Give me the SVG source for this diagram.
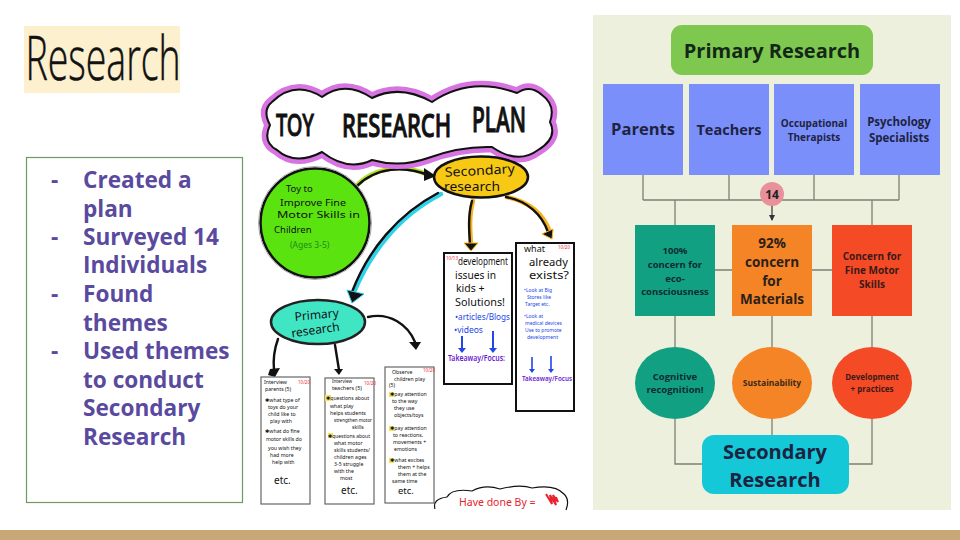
<svg xmlns="http://www.w3.org/2000/svg" width="960" height="540" viewBox="0 0 960 540">
<defs>
<marker id="ah" markerWidth="8" markerHeight="8" refX="5" refY="3" orient="auto" markerUnits="userSpaceOnUse"><path d="M0,0L6,3L0,6Z" fill="#333"/></marker>
</defs>
<style>
.os{font-family:"Open Sans","Noto Sans","DejaVu Sans",sans-serif;font-weight:700;text-anchor:middle}
.dk{fill:#1d2340}
.ln{fill:none;stroke:#7d7f74;stroke-width:1.3}
.li{font-family:"Open Sans","Noto Sans",sans-serif;font-weight:700;font-size:22.600px;fill:#5a4a9f}
.hw{font-family:"Noto Sans","DejaVu Sans",sans-serif;fill:#111}
.sm{font-size:5.200px}
.bl{fill:#2346e8}
.rd{fill:#f0243c;font-family:"Noto Sans",sans-serif;font-size:4.500px}
.note{fill:#fff;stroke:#666;stroke-width:1.2}
.noteb{fill:#fff;stroke:#111;stroke-width:2}
.arr{fill:none;stroke:#111;stroke-width:2.4;stroke-linecap:round}
.glow{fill:none;stroke-width:4.5;stroke-linecap:round}
.star{fill:#f5e25a}
</style>
<rect width="960" height="540" fill="#fff"/>
<rect id="footer" x="0" y="530" width="960" height="10" fill="#c9a878"/>
<g id="title"><rect x="24" y="26" width="156" height="67" fill="#fdf0cf"/>
<text transform="translate(25.500 80) scale(0.635 1.03)" font-family="'Open Sans',sans-serif" font-weight="300" font-size="59" fill="#111" stroke="#111" stroke-width=".5">Research</text></g>
<g id="steps"><rect x="26.500" y="157.500" width="216" height="345" fill="#fff" stroke="#6f9b5f" stroke-width="1.200"/>
<text class="li" x="51" y="188">-</text><text class="li" x="83" y="188">Created a</text><text class="li" x="83" y="217">plan</text>
<text class="li" x="51" y="245">-</text><text class="li" x="83" y="245">Surveyed 14</text><text class="li" x="83" y="273">Individuals</text>
<text class="li" x="51" y="302">-</text><text class="li" x="83" y="302">Found</text><text class="li" x="83" y="331">themes</text>
<text class="li" x="51" y="359">-</text><text class="li" x="83" y="359">Used themes</text><text class="li" x="83" y="388">to conduct</text><text class="li" x="83" y="416">Secondary</text><text class="li" x="83" y="445">Research</text></g>

<g id="plan-connectors">
<path class="glow" stroke="#b7e020" d="M356,186C375,166 405,164 428,175"/>
<path class="arr" d="M356,187C375,167 405,165 430,176"/><path d="M424,168L436,176L424,181Z" fill="#111"/>
<path class="glow" stroke="#2ed3ea" d="M441,194C400,215 372,250 354,292"/>
<path class="arr" d="M438,193C398,214 368,250 352,292"/><path d="M347,290L364,294L352,303Z" fill="#111" stroke="#2ed3ea"/>
<path class="glow" stroke="#f5b21a" d="M473,201C469,215 470,230 471,244"/><path class="arr" d="M472,201C468,215 469,230 470,244"/><path d="M464,243L478,243L471,251Z" fill="#111" stroke="#f5b21a"/>
<path class="glow" stroke="#f5b21a" d="M507,197C530,202 544,215 550,232"/><path class="arr" d="M506,197C528,201 542,215 548,232"/><path d="M542,234L553,229L552,239Z" fill="#111" stroke="#f5b21a"/>
<path class="arr" d="M278,339C274,350 273,360 274,370"/><path d="M270,369L280,368L275,377L268,375Z" fill="#111"/>
<path class="arr" d="M335,345L339,370"/><path d="M334,369L343,369L339,375Z" fill="#111"/>
<path class="arr" d="M368,317C390,312 408,325 415,342"/><path d="M409,342L421,342L416,350Z" fill="#111"/>
</g>
<g id="plan-title">
<path d="M272,102Q295,80 322,97Q345,80 372,98Q400,84 432,102Q470,76 517,93Q530,84 542,95Q556,105 550,122Q558,138 538,150Q518,165 492,147Q460,146 428,158Q400,168 372,160Q348,172 322,152Q295,166 277,150Q262,142 270,125Q262,110 272,102Z" fill="#d774e2" stroke="#d774e2" stroke-width="11"/>
<path d="M272,102Q295,80 322,97Q345,80 372,98Q400,84 432,102Q470,76 517,93Q530,84 542,95Q556,105 550,122Q558,138 538,150Q518,165 492,147Q460,146 428,158Q400,168 372,160Q348,172 322,152Q295,166 277,150Q262,142 270,125Q262,110 272,102Z" fill="#fff" stroke="#111" stroke-width="2"/>
<text class="hw" transform="translate(276 136) scale(.8 1.25)" font-size="25" font-weight="500" stroke="#111" stroke-width=".8">TOY</text>
<text class="hw" transform="translate(342 137) scale(.88 1.3)" font-size="25" font-weight="500" stroke="#111" stroke-width=".8">RESEARCH</text>
<text class="hw" transform="translate(472 132) scale(.84 1.35)" font-size="25" font-weight="500" stroke="#111" stroke-width=".8">PLAN</text></g>
<g id="toy-goal"><circle cx="315" cy="223" r="54.500" fill="#5be30f" stroke="#111" stroke-width="2.500"/><circle cx="315" cy="223" r="56.500" fill="none" stroke="#aaa" stroke-width="1"/>
<g class="hw" font-size="9.500"><text x="286" y="192">Toy to</text><text x="280" y="206" textLength="66" lengthAdjust="spacingAndGlyphs">Improve Fine</text><text x="277" y="218" textLength="83" lengthAdjust="spacingAndGlyphs">Motor Skills in</text><text x="274" y="233">Children</text></g>
<text x="290" y="248" font-size="8.500" font-family="'Noto Sans',sans-serif" fill="#1c8a1a">(Ages 3-5)</text></g>
<g id="secondary-oval"><ellipse cx="481" cy="177" rx="47" ry="20.500" fill="#f7c915" stroke="#111" stroke-width="2.500"/>
<g class="hw" font-size="13" text-anchor="middle"><text x="480" y="175" transform="rotate(-3 480 175)" textLength="70" lengthAdjust="spacingAndGlyphs">Secondary</text><text x="472" y="191" textLength="56" lengthAdjust="spacingAndGlyphs">research</text></g></g>
<g id="primary-oval"><ellipse cx="318" cy="322" rx="47" ry="22" fill="#40e6c4" stroke="#222" stroke-width="2.500"/>
<g class="hw" font-size="12" text-anchor="middle"><text x="317" y="319" transform="rotate(-5 317 319)">Primary</text><text x="316" y="334" transform="rotate(-8 316 334)">research</text></g></g>

<g id="note-development"><rect class="noteb" x="444" y="253" width="68" height="131"/>
<text class="rd" x="446" y="260">10/13</text>
<g class="hw" font-size="10.500"><text x="458" y="265" textLength="50" lengthAdjust="spacingAndGlyphs">development</text><text x="455" y="279" textLength="41" lengthAdjust="spacingAndGlyphs">issues in</text><text x="456" y="292">kids +</text><text x="455" y="306" textLength="50" lengthAdjust="spacingAndGlyphs">Solutions!</text></g>
<text x="455" y="320" class="bl" font-family="'Noto Sans',sans-serif" font-size="8.500" textLength="55" lengthAdjust="spacingAndGlyphs">•articles/Blogs</text><text x="454" y="333" class="bl" font-family="'Noto Sans',sans-serif" font-size="8.500">•videos</text>
<path d="M462,336V350M493,331V350" stroke="#2346e8" stroke-width="2"/><path d="M458,348L466,348L462,353ZM489,348L497,348L493,353Z" fill="#2346e8"/>
<text x="448" y="361" font-family="'Noto Sans',sans-serif" font-size="8.500" font-weight="600" fill="#6a1bd1" textLength="57" lengthAdjust="spacingAndGlyphs">Takeaway/Focus:</text></g>
<g id="note-exists"><rect class="noteb" x="516" y="243" width="58" height="168"/>
<text class="rd" x="558" y="249">10/20</text>
<g class="hw" font-size="9"><text x="524" y="252">what</text><text x="529" y="266" font-size="10" textLength="39" lengthAdjust="spacingAndGlyphs">already</text><text x="529" y="279" font-size="10" textLength="40" lengthAdjust="spacingAndGlyphs">exists?</text></g>
<g font-family="'Noto Sans',sans-serif" font-size="5" fill="#2346e8"><text x="524" y="292">•Look at Big</text><text x="527" y="299">Stores like</text><text x="525" y="306">Target etc.</text><text x="524" y="318">•Look at</text><text x="525" y="325">medical devices</text><text x="525" y="332">Use to promote</text><text x="527" y="339">development</text></g>
<path d="M532,357V370M551,356V370" stroke="#2346e8" stroke-width="1.600"/><path d="M529,369L535,369L532,373ZM548,369L554,369L551,373Z" fill="#2346e8"/>
<text x="522" y="381" font-family="'Noto Sans',sans-serif" font-size="7" font-weight="600" fill="#6a1bd1" textLength="50" lengthAdjust="spacingAndGlyphs">Takeaway/Focus</text></g>
<g id="note-parents"><rect class="note" x="261" y="377" width="49" height="127"/>
<text class="rd" x="298" y="384">10/20</text>
<g class="hw sm"><text x="264" y="384">Interview</text><text x="265" y="391">parents (5)</text><text x="265" y="402">✱what type of</text><text x="268" y="409">toys do your</text><text x="268" y="416">child like to</text><text x="270" y="423">play with</text><text x="265" y="433">✱what do fine</text><text x="266" y="441">motor skills do</text><text x="268" y="450">you wish they</text><text x="270" y="457">had more</text><text x="272" y="464">help with</text></g>
<text class="hw" x="274" y="484" font-size="10">etc.</text></g>
<g id="note-teachers"><rect class="note" x="325" y="378" width="49" height="126"/>
<text class="rd" x="364" y="385">10/20</text>
<rect class="star" x="325" y="395" width="6" height="6"/><rect class="star" x="328" y="433" width="5" height="5"/>
<g class="hw sm"><text x="332" y="383" textLength="20" lengthAdjust="spacingAndGlyphs">Interview</text><text x="332" y="390" textLength="30" lengthAdjust="spacingAndGlyphs">teachers (5)</text><text x="326" y="400" textLength="43" lengthAdjust="spacingAndGlyphs">✱questions about</text><text x="330" y="408">what play</text><text x="330" y="415">helps students</text><text x="334" y="422" textLength="38" lengthAdjust="spacingAndGlyphs">strengthen motor</text><text x="352" y="429">skills</text><text x="328" y="438" textLength="42" lengthAdjust="spacingAndGlyphs">✱questions about</text><text x="334" y="445">what motor</text><text x="334" y="452" textLength="36" lengthAdjust="spacingAndGlyphs">skills students/</text><text x="334" y="459">children ages</text><text x="334" y="466">3-5 struggle</text><text x="334" y="473">with the</text><text x="340" y="480">most</text></g>
<text class="hw" x="341" y="494" font-size="10">etc.</text></g>
<g id="note-observe"><rect class="note" x="385" y="367" width="49" height="136"/>
<text class="rd" x="423" y="372">10/20</text>
<rect class="star" x="389" y="392" width="5" height="5"/><rect class="star" x="389" y="426" width="5" height="5"/><rect class="star" x="389" y="458" width="5" height="5"/>
<g class="hw sm"><text x="392" y="374">Observe</text><text x="394" y="380.500">children play</text><text x="389" y="387">(5)</text><text x="390" y="396">✱pay attention</text><text x="392" y="403">to the way</text><text x="394" y="410">they use</text><text x="394" y="417">objects/toys</text><text x="390" y="430">✱pay attention</text><text x="393" y="437">to reactions,</text><text x="393" y="444">movements +</text><text x="394" y="451">emotions</text><text x="390" y="462">✱what excites</text><text x="398" y="469">them + helps</text><text x="398" y="476">them at the</text><text x="392" y="483">same time</text></g>
<text class="hw" x="398" y="494" font-size="9.500">etc.</text></g>
<g id="done-by"><path d="M435,509Q432,499 447,497Q452,488 472,491Q485,484 500,489Q520,484 532,488Q555,484 564,494Q570,500 566,510" fill="#fff" stroke="#111" stroke-width="1.200"/>
<text x="459" y="506" font-family="'Noto Sans',sans-serif" font-size="10.500" fill="#e8222e">Have done By =</text>
<path d="M546,494L552,504L550,495L556,505L553,495L558,502L556,497" fill="none" stroke="#e8222e" stroke-width="2"/></g>

<rect id="panel" x="593" y="15" width="358" height="495" fill="#edf0dc"/>
<g id="connectors">
<path class="ln" d="M643,175V200M729,175V200M814,175V200M899,175V200M643,200H899M675,200V225M872,200V225M715,270H732M812,270H832M675,316V347M772,316V347M872,316V347M675,419V464H702M772,419V435M872,419V464H849"/>
<path d="M772,205V220" stroke="#333" stroke-width="1.200" fill="none" marker-end="url(#ah)"/>
</g>
<g id="primary"><rect x="671" y="25" width="202" height="50" rx="11" fill="#7fc84f"/><text class="os" x="772" y="58" font-size="20" fill="#14281a">Primary Research</text></g>
<g id="parents"><rect x="603" y="84" width="80" height="91" fill="#7b8ffb"/><text class="os dk" x="643" y="135" font-size="16.500">Parents</text></g>
<g id="teachers"><rect x="689" y="84" width="80" height="91" fill="#7b8ffb"/><text class="os dk" x="729" y="135" font-size="14.500">Teachers</text></g>
<g id="therapists"><rect x="774" y="84" width="80" height="91" fill="#7b8ffb"/><text class="os dk" font-size="10"><tspan x="814" y="127">Occupational</tspan><tspan x="814" y="141">Therapists</tspan></text></g>
<g id="psychology"><rect x="860" y="84" width="80" height="91" fill="#7b8ffb"/><text class="os dk" font-size="11.500"><tspan x="899" y="126">Psychology</tspan><tspan x="899" y="142">Specialists</tspan></text></g>
<g id="badge"><circle cx="772" cy="194" r="12" fill="#e8919a"/><text class="os" x="772" y="198.500" font-size="12" fill="#222">14</text></g>
<g id="concern-eco"><rect x="635" y="225" width="80" height="91" fill="#12a083"/><g class="os" font-size="9.500" fill="#0c2c30"><text x="675" y="254">100%</text><text x="675" y="268">concern for</text><text x="675" y="282">eco-</text><text x="675" y="295">consciousness</text></g></g>
<g id="concern-materials"><rect x="732" y="225" width="80" height="91" fill="#f58426"/><g class="os" font-size="13.500" fill="#2a2018"><text x="772" y="248">92%</text><text x="772" y="267">concern</text><text x="772" y="286">for</text><text x="772" y="304">Materials</text></g></g>
<g id="concern-motor"><rect x="832" y="225" width="80" height="91" fill="#f54a26"/><g class="os" font-size="10" fill="#3a1a18"><text x="872" y="260">Concern for</text><text x="872" y="274">Fine Motor</text><text x="872" y="288">Skills</text></g></g>
<g id="cognitive"><ellipse cx="675" cy="383" rx="40" ry="36" fill="#12a083"/><g class="os" font-size="9.500" fill="#0c2c30"><text x="675" y="380">Cognitive</text><text x="675" y="393">recognition!</text></g></g>
<g id="sustainability"><ellipse cx="772" cy="383" rx="40" ry="36" fill="#f58426"/><text class="os" x="772" y="386" font-size="8.500" fill="#3a2a18">Sustainability</text></g>
<g id="development"><ellipse cx="872" cy="383" rx="40" ry="36" fill="#f54a26"/><g class="os" font-size="8" fill="#3a1a18"><text x="872" y="380">Development</text><text x="872" y="392">+ practices</text></g></g>
<g id="secondary"><rect x="702" y="435" width="147" height="59" rx="12" fill="#14c8d8"/><g class="os dk" font-size="20"><text x="775" y="459">Secondary</text><text x="775" y="487">Research</text></g></g>
</svg>
